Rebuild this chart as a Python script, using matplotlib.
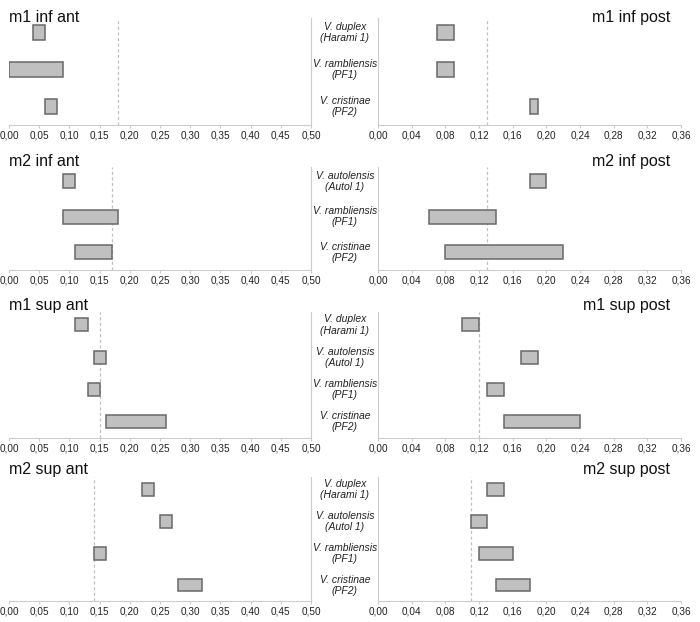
import matplotlib
matplotlib.use("Agg")
import matplotlib.pyplot as plt
import matplotlib.transforms as mtrans
from matplotlib.ticker import FuncFormatter, MultipleLocator

plt.rcParams['font.family'] = ['Liberation Sans', 'DejaVu Sans']

# ---- data ----
DUP = "V. duplex\n(Harami 1)"
AUT = "V. autolensis\n(Autol 1)"
RAM = "V. rambliensis\n(PF1)"
CRI = "V. cristinae\n(PF2)"

row1_cats = [DUP, RAM, CRI]
row2_cats = [AUT, RAM, CRI]
row3_cats = [DUP, AUT, RAM, CRI]
row4_cats = [DUP, AUT, RAM, CRI]

m1_inf_ant_lo = [0.04, 0.00, 0.06]
m1_inf_ant_hi = [0.06, 0.09, 0.08]
m1_inf_ant_ref = 0.18
m1_inf_post_lo = [0.07, 0.07, 0.18]
m1_inf_post_hi = [0.09, 0.09, 0.19]
m1_inf_post_ref = 0.13

m2_inf_ant_lo = [0.09, 0.09, 0.11]
m2_inf_ant_hi = [0.11, 0.18, 0.17]
m2_inf_ant_ref = 0.17
m2_inf_post_lo = [0.18, 0.06, 0.08]
m2_inf_post_hi = [0.20, 0.14, 0.22]
m2_inf_post_ref = 0.13

m1_sup_ant_lo = [0.11, 0.14, 0.13, 0.16]
m1_sup_ant_hi = [0.13, 0.16, 0.15, 0.26]
m1_sup_ant_ref = 0.15
m1_sup_post_lo = [0.10, 0.17, 0.13, 0.15]
m1_sup_post_hi = [0.12, 0.19, 0.15, 0.24]
m1_sup_post_ref = 0.12

m2_sup_ant_lo = [0.22, 0.25, 0.14, 0.28]
m2_sup_ant_hi = [0.24, 0.27, 0.16, 0.32]
m2_sup_ant_ref = 0.14
m2_sup_post_lo = [0.13, 0.11, 0.12, 0.14]
m2_sup_post_hi = [0.15, 0.13, 0.16, 0.18]
m2_sup_post_ref = 0.11

ant_max, ant_step = 0.50, 0.05
post_max, post_step = 0.36, 0.04

rows = [
    ("m1 inf ant", "m1 inf post", row1_cats, m1_inf_ant_lo, m1_inf_ant_hi, m1_inf_ant_ref,
     m1_inf_post_lo, m1_inf_post_hi, m1_inf_post_ref),
    ("m2 inf ant", "m2 inf post", row2_cats, m2_inf_ant_lo, m2_inf_ant_hi, m2_inf_ant_ref,
     m2_inf_post_lo, m2_inf_post_hi, m2_inf_post_ref),
    ("m1 sup ant", "m1 sup post", row3_cats, m1_sup_ant_lo, m1_sup_ant_hi, m1_sup_ant_ref,
     m1_sup_post_lo, m1_sup_post_hi, m1_sup_post_ref),
    ("m2 sup ant", "m2 sup post", row4_cats, m2_sup_ant_lo, m2_sup_ant_hi, m2_sup_ant_ref,
     m2_sup_post_lo, m2_sup_post_hi, m2_sup_post_ref),
]

# ---- layout (pixels) ----
W, H = 700, 622
row_px = [(18, 125), (167, 270), (312, 438), (477, 601)]
title_base = [22, 166, 310, 474]
left_x = (9, 311)
right_x = (378, 681)
label_x = 345

fig = plt.figure(figsize=(W / 100, H / 100), dpi=100)

SPINE = "#cccccc"
BAR_FC = "#c0c0c0"
BAR_EC = "#686868"
REF = "#c0c0c0"

fmt = FuncFormatter(lambda v, p: f"{v:.2f}".replace(".", ","))


def style(ax, xmax, step, side):
    ax.set_xlim(0, xmax)
    ax.xaxis.set_major_locator(MultipleLocator(step))
    ax.xaxis.set_major_formatter(fmt)
    for s in ax.spines.values():
        s.set_visible(False)
    ax.spines['bottom'].set_visible(True)
    ax.spines['bottom'].set_color(SPINE)
    ax.spines[side].set_visible(True)
    ax.spines[side].set_color(SPINE)
    ax.tick_params(axis='x', length=2, color=SPINE, labelsize=7.2, pad=2,
                   labelcolor="#222222")
    ax.set_yticks([])
    ax.set_facecolor('none')


for i, (tl, tr, cats, alo, ahi, aref, plo, phi, pref) in enumerate(rows):
    top, bot = row_px[i]
    b = 1 - bot / H
    h = (bot - top) / H
    axl = fig.add_axes([left_x[0] / W, b, (left_x[1] - left_x[0]) / W, h])
    axr = fig.add_axes([right_x[0] / W, b, (right_x[1] - right_x[0]) / W, h])
    n = len(cats)
    ypos = list(range(n))
    for ax, lo, hi, ref, xmax, step, side in (
            (axl, alo, ahi, aref, ant_max, ant_step, 'right'),
            (axr, plo, phi, pref, post_max, post_step, 'left')):
        widths = [h_ - l_ for l_, h_ in zip(lo, hi)]
        ax.barh(ypos, widths, left=lo, height=0.4, color=BAR_FC,
                edgecolor=BAR_EC, linewidth=1.1, zorder=3)
        ax.axvline(ref, color=REF, linestyle=(0, (2.5, 2)), linewidth=0.9, zorder=2)
        ax.set_ylim(n - 0.5, -0.4)
        style(ax, xmax, step, side)
    trans = mtrans.blended_transform_factory(fig.transFigure, axr.transData)
    for y, c in zip(ypos, cats):
        axr.text(label_x / W, y, c, transform=trans, ha='center', va='center',
                 fontsize=7.5, style='italic', color="#222222", linespacing=1.15)
    fig.text(left_x[0] / W, 1 - title_base[i] / H, tl, ha='left', va='baseline',
             fontsize=11.5, color="#111111")
    fig.text(670 / W, 1 - title_base[i] / H, tr, ha='right', va='baseline',
             fontsize=11.5, color="#111111")

fig.savefig("out.png", dpi=100, facecolor='white')
